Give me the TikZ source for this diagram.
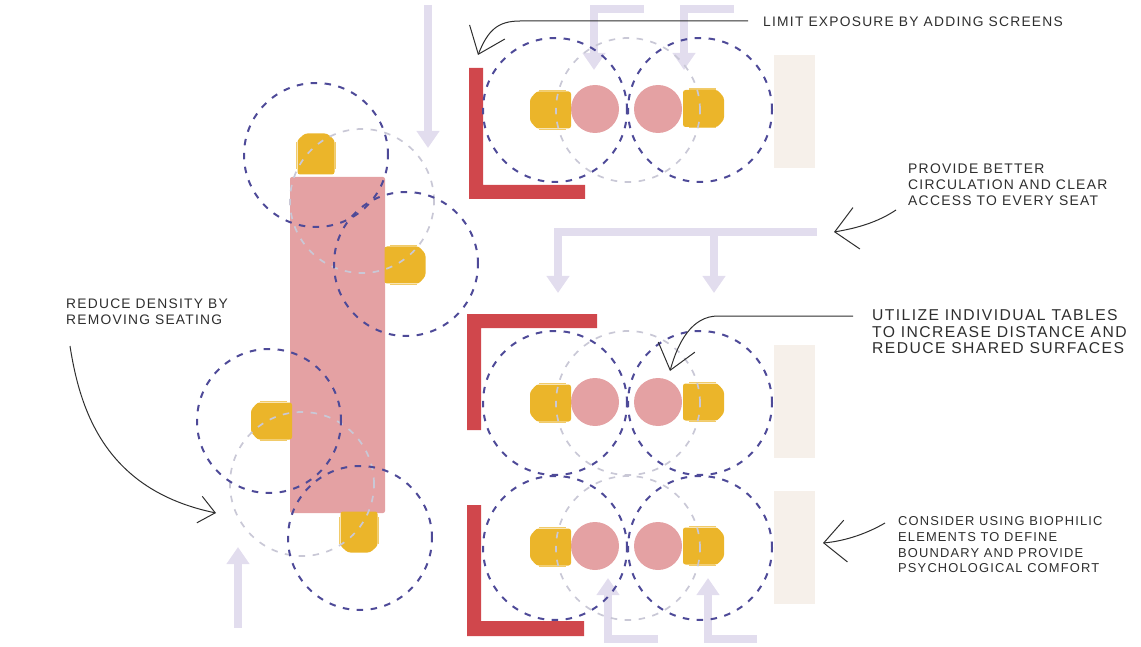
\documentclass[tikz,border=0pt]{standalone}
\usepackage{fontspec}
\usetikzlibrary{arrows.meta}
\newfontfamily\handfont[LetterSpace=9]{Liberation Sans}
\definecolor{zonenavy}{HTML}{4E4A98}
\definecolor{zonegrey}{HTML}{C9C8D6}
\definecolor{tablepink}{HTML}{E4A1A3}
\definecolor{wallred}{HTML}{D0474C}
\definecolor{seatyellow}{HTML}{EBB52A}
\definecolor{plantbeige}{HTML}{F6F0EA}
\definecolor{flowlilac}{HTML}{E2DDEE}
\definecolor{inkgrey}{HTML}{2E2E2E}
\tikzset{
  zone/.style={circle, draw=zonenavy, line width=2pt, dash pattern=on 6.5pt off 7.5pt, inner sep=0pt, minimum size=144pt},
  zonepale/.style={zone, draw=zonegrey, line width=1.7pt},
  disc/.style={circle, fill=tablepink, inner sep=0pt, minimum size=48pt},
  planter/.style={rectangle, fill=plantbeige, inner sep=0pt, minimum width=41pt, minimum height=113pt},
  wall/.style={fill=wallred},
  flow/.style={draw=flowlilac, line width=8.5pt, -{Triangle[length=17pt,width=22pt]}},
  leader/.style={draw=inkgrey, line width=1pt, -{Straight Barb[length=24pt,width=38pt,line width=1pt]}},
  note/.style={anchor=west, align=left, inner sep=0pt, text=inkgrey},
  pics/seat/.style={code={
    \fill[seatyellow!70!white] (-12,-20) rectangle (15,-18.8);
    \fill[seatyellow!70!white] (-12,18.8) rectangle (15,20);
    \fill[seatyellow, rounded corners=2.5pt] (20.5,-18.5) -- (-14,-18.5) -- (-20.5,-11) -- (-20.5,11) -- (-14,18.5) -- (20.5,18.5) -- cycle;
  }}
}
\begin{document}
\begin{tikzpicture}[x=1pt,y=-1pt]
  \useasboundingbox (0,0) rectangle (1141,647);
  % circulation paths
  \coordinate (top_a0) at (644,9);   \coordinate (top_a1) at (594,70);
  \coordinate (top_b0) at (734,9);   \coordinate (top_b1) at (684,70);
  \coordinate (mid_a0) at (817,232); \coordinate (mid_a1) at (558,293);
  \coordinate (mid_b0) at (714,232); \coordinate (mid_b1) at (714,293);
  \coordinate (low_a0) at (658,639); \coordinate (low_a1) at (608,578);
  \coordinate (low_b0) at (757,639); \coordinate (low_b1) at (708,578);
  \coordinate (aisle_a0) at (428,5);   \coordinate (aisle_a1) at (428,148);
  \coordinate (aisle_b0) at (238,628); \coordinate (aisle_b1) at (238,547);
  \draw[flow] (top_a0) -| (top_a1);
  \draw[flow] (top_b0) -| (top_b1);
  \draw[flow] (mid_a0) -| (mid_a1);
  \draw[flow] (mid_b0) -- (mid_b1);
  \draw[flow] (low_a0) -| (low_a1);
  \draw[flow] (low_b0) -| (low_b1);
  \draw[flow] (aisle_a0) -- (aisle_a1);
  \draw[flow] (aisle_b0) -- (aisle_b1);

  % screens
  \fill[wall] (469,68) -- (483,68) -- (483,185) -- (585,185) -- (585,199) -- (469,199) -- cycle;
  \fill[wall] (467,314) -- (597,314) -- (597,328) -- (481,328) -- (481,430) -- (467,430) -- cycle;
  \fill[wall] (467,505) -- (481,505) -- (481,621) -- (584,621) -- (584,636) -- (467,636) -- cycle;

  % planters
  \node[planter] (plant_top) at (794.5,111.5) {};
  \node[planter] (plant_mid) at (794.5,401) {};
  \node[planter] (plant_low) at (794.5,547) {};

  % long table and its seats
  \node[rectangle, fill=tablepink, rounded corners=2pt, inner sep=0pt, minimum width=95pt, minimum height=336pt] (long_table) at (337.5,345) {};
  \pic[rotate=-90] (seat_l1) at (316,154) {seat};
  \pic[rotate=180] (seat_l2) at (405,265) {seat};
  \pic (seat_l3) at (271.5,421) {seat};
  \pic[rotate=90] (seat_l4) at (359,532) {seat};

  % single tables and seats
  \node[disc] (disc_t1) at (595,109) {};
  \node[disc] (disc_t2) at (658,109) {};
  \node[disc] (disc_m1) at (595,402) {};
  \node[disc] (disc_m2) at (658,402) {};
  \node[disc] (disc_b1) at (595,546) {};
  \node[disc] (disc_b2) at (658,546) {};
  \pic (seat_t1) at (550.5,110) {seat};
  \pic[rotate=180] (seat_t2) at (703.5,108.5) {seat};
  \pic (seat_m1) at (550.5,403) {seat};
  \pic[rotate=180] (seat_m2) at (703.5,402) {seat};
  \pic (seat_b1) at (550.5,547) {seat};
  \pic[rotate=180] (seat_b2) at (703.5,546) {seat};

  % distance circles
  \node[zonepale] (pale_l1) at (362,201) {};
  \node[zonepale] (pale_l2) at (302,484) {};
  \node[zonepale] (pale_t) at (628,110) {};
  \node[zonepale] (pale_m) at (628,403) {};
  \node[zonepale] (pale_b) at (628,548) {};
  \node[zone] (zone_l1) at (316,155) {};
  \node[zone] (zone_l2) at (406,264) {};
  \node[zone] (zone_l3) at (269,421) {};
  \node[zone] (zone_l4) at (360,538) {};
  \node[zone] (zone_t1) at (555,110) {};
  \node[zone] (zone_t2) at (700,110) {};
  \node[zone] (zone_m1) at (555,403) {};
  \node[zone] (zone_m2) at (700,403) {};
  \node[zone] (zone_b1) at (555,548) {};
  \node[zone] (zone_b2) at (700,548) {};

  % notes
  \node[note, font=\handfont\fontsize{13.8}{16}\selectfont] (note_limit) at (763,22) {LIMIT EXPOSURE BY ADDING SCREENS};
  \node[note, font=\handfont\fontsize{13.9}{16}\selectfont] (note_provide) at (908,185) {PROVIDE BETTER\\CIRCULATION AND CLEAR\\ACCESS TO EVERY SEAT};
  \node[note, font=\handfont\fontsize{15.7}{16.5}\selectfont] (note_utilize) at (872,332) {UTILIZE INDIVIDUAL TABLES\\TO INCREASE DISTANCE AND\\REDUCE SHARED SURFACES};
  \node[note, font=\handfont\fontsize{12.9}{15.7}\selectfont] (note_consider) at (898,545) {CONSIDER USING BIOPHILIC\\ELEMENTS TO DEFINE\\BOUNDARY AND PROVIDE\\PSYCHOLOGICAL COMFORT};
  \node[note, font=\handfont\fontsize{13.8}{16}\selectfont] (note_reduce) at (66,312) {REDUCE DENSITY BY\\REMOVING SEATING};

  % leaders
  \coordinate (limit_start) at (748,21);     \coordinate (limit_tip) at (478,55);
  \coordinate (provide_start) at (896,210);  \coordinate (provide_tip) at (834,232);
  \coordinate (utilize_start) at (853,316);  \coordinate (utilize_tip) at (670,371);
  \coordinate (consider_start) at (885,523); \coordinate (consider_tip) at (823,543);
  \coordinate (reduce_start) at (70,346);    \coordinate (reduce_tip) at (216,513);
  \draw[leader] (limit_start) -- (520,21) .. controls (498,21) and (488,30) .. (limit_tip);
  \draw[leader, -{Straight Barb[length=22pt,width=42pt,line width=1pt]}] (provide_start) .. controls (878,222) and (858,228) .. (provide_tip);
  \draw[leader] (utilize_start) -- (718,316) .. controls (692,316) and (678,342) .. (utilize_tip);
  \draw[leader, -{Straight Barb[length=22pt,width=42pt,line width=1pt]}] (consider_start) .. controls (868,533) and (846,541) .. (consider_tip);
  \draw[leader, -{Straight Barb[length=16pt,width=27pt,line width=1pt]}] (reduce_start) .. controls (80,410) and (105,490) .. (reduce_tip);
\end{tikzpicture}
\end{document}
